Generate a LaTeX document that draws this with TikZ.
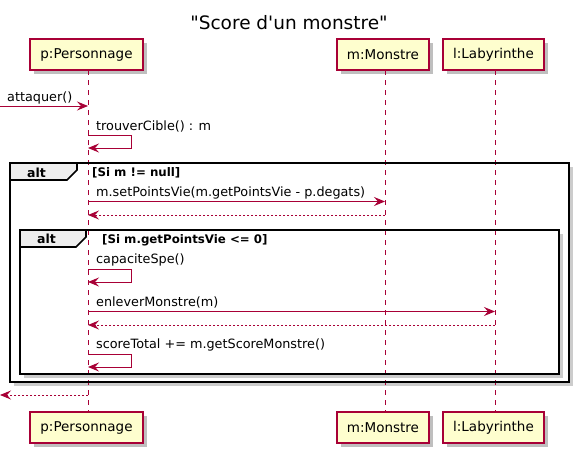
\documentclass[tikz,border=0pt]{standalone}
\usepackage{fontspec}
\setmainfont{DejaVu Sans}
\newfontfamily\plainfont{DejaVu Sans}
\usetikzlibrary{arrows.meta}
\definecolor{umlred}{HTML}{A80036}
\definecolor{umlfill}{HTML}{FEFECE}
\definecolor{tabfill}{HTML}{EEEEEE}
\begin{document}
\begin{tikzpicture}[x=1pt,y=-1pt,
  part/.style={draw=umlred, fill=umlfill, line width=1.2pt, minimum height=31pt, inner sep=0pt,
     font=\fontsize{13.5}{15}\selectfont},
  pshadow/.style={fill=black, opacity=0.25},
  lifeline/.style={draw=umlred, line width=0.8pt, dash pattern=on 5pt off 5pt},
  msg/.style={draw=umlred, line width=0.9pt, -{Stealth[length=11pt,width=9pt,inset=4pt]}},
  ret/.style={msg, dash pattern=on 2pt off 2pt},
  mlabel/.style={anchor=base west, inner sep=0pt, font=\fontsize{12.8}{14}\selectfont},
  guard/.style={anchor=base west, inner sep=0pt, font=\fontsize{11.8}{13}\bfseries\selectfont},
  altlabel/.style={anchor=base west, inner sep=0pt, font=\fontsize{12.5}{14}\bfseries\selectfont},
  frameline/.style={draw=black, line width=1.6pt},
  fshadow/.style={fill=black, opacity=0.2}
]
\useasboundingbox (0,0) rectangle (581,455);
\fill[white] (0,0) rectangle (581,455);

% title
\node[inner sep=0pt, anchor=base, font=\plainfont\fontsize{18.5}{21}\selectfont] (title) at (289,29) {"Score d'un monstre"};

% participant shadows
\foreach \x/\w in {86.5/113, 383/92, 493.5/101}{
  \fill[pshadow] (\x-\w/2+4,43) rectangle (\x+\w/2+4,74);
  \fill[pshadow] (\x-\w/2+4,416) rectangle (\x+\w/2+4,447);
}

% frames background + shadows
\fill[fshadow] (14,167) rectangle (573,386);
\fill[white] (10,163) rectangle (569,382);
\fill[fshadow] (24,234) rectangle (563,378);
\fill[white] (20,230) rectangle (559,374);

% participants
\node[part, minimum width=113pt] (pT) at (86.5,54.5) {p:Personnage};
\node[part, minimum width=92pt] (mT) at (383,54.5) {m:Monstre};
\node[part, minimum width=101pt] (lT) at (493.5,54.5) {l:Labyrinthe};
\node[part, minimum width=113pt] (pB) at (86.5,427.5) {p:Personnage};
\node[part, minimum width=92pt] (mB) at (383,427.5) {m:Monstre};
\node[part, minimum width=101pt] (lB) at (493.5,427.5) {l:Labyrinthe};

% lifelines
\coordinate (pt) at (88,70); \coordinate (pb) at (88,412);
\coordinate (mt) at (385,70); \coordinate (mb) at (385,412);
\coordinate (lt) at (495,70); \coordinate (lb) at (495,412);
\draw[lifeline] (pt) -- (pb);
\draw[lifeline] (mt) -- (mb);
\draw[lifeline] (lt) -- (lb);

% frames
\draw[frameline] (10,163) rectangle (569,382);
\filldraw[frameline, fill=tabfill] (10,163) -- (77,163) -- (77,170) -- (67,180) -- (10,180) -- cycle;
\node[altlabel] (alt1) at (27,177) {alt};
\node[guard] (g1) at (92,176.5) {[Si m != null]};

\draw[frameline] (20,230) rectangle (559,374);
\filldraw[frameline, fill=tabfill] (20,230) -- (86,230) -- (86,237) -- (76,247) -- (20,247) -- cycle;
\node[altlabel] (alt2) at (37,243.5) {alt};
\node[guard] (g2) at (102,243) {[Si m.getPointsVie <= 0]};

% messages
\coordinate (s0) at (0,106); \coordinate (s1) at (88,106);
\draw[msg] (s0) -- (s1);
\node[mlabel] (l1) at (7,101) {attaquer()};

\coordinate (t0) at (88,135.5); \coordinate (t1) at (88,148);
\draw[msg] (t0) -- (131,135.5) -- (131,148) -- (t1);
\node[mlabel] (l2) at (96,130) {trouverCible() : m};

\coordinate (u0) at (88,201.5); \coordinate (u1) at (385,201.5);
\draw[msg] (u0) -- (u1);
\node[mlabel] (l3) at (96,196.5) {m.setPointsVie(m.getPointsVie - p.degats)};

\coordinate (v0) at (385,215); \coordinate (v1) at (88,215);
\draw[ret] (v0) -- (v1);

\coordinate (w0) at (88,269); \coordinate (w1) at (88,282);
\draw[msg] (w0) -- (131,269) -- (131,282) -- (w1);
\node[mlabel] (l4) at (96,263.5) {capaciteSpe()};

\coordinate (x0) at (88,311.5); \coordinate (x1) at (495,311.5);
\draw[msg] (x0) -- (x1);
\node[mlabel] (l5) at (96,306) {enleverMonstre(m)};

\coordinate (y0) at (495,325); \coordinate (y1) at (88,325);
\draw[ret] (y0) -- (y1);

\coordinate (z0) at (88,354.5); \coordinate (z1) at (88,367);
\draw[msg] (z0) -- (131,354.5) -- (131,367) -- (z1);
\node[mlabel] (l6) at (96,348.5) {scoreTotal += m.getScoreMonstre()};

\coordinate (r0) at (88,395); \coordinate (r1) at (0,395);
\draw[ret] (r0) -- (r1);
\end{tikzpicture}
\end{document}
